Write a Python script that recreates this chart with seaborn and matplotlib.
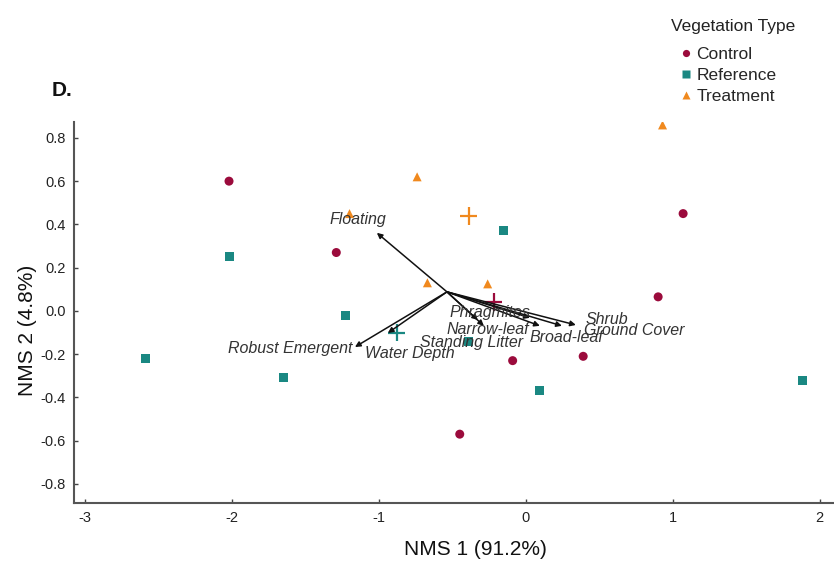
import matplotlib
matplotlib.use("Agg")
import matplotlib.pyplot as plt
import seaborn as sns
import pandas as pd

# Site scores on the two NMS axes
control_x = [-2.02, -1.29, 1.07, 0.90, 0.39, -0.09, -0.45]
control_y = [0.60, 0.27, 0.45, 0.065, -0.21, -0.23, -0.57]
reference_x = [-2.02, -1.23, -2.59, -1.65, -0.15, -0.39, 0.09, 1.88]
reference_y = [0.25, -0.02, -0.22, -0.31, 0.37, -0.14, -0.37, -0.32]
treatment_x = [-1.20, -0.74, -0.67, -0.26, 0.93]
treatment_y = [0.45, 0.62, 0.13, 0.125, 0.86]

# Group centroids
groups = ["Control", "Reference", "Treatment"]
centroid_x = [-0.22, -0.88, -0.39]
centroid_y = [0.04, -0.10, 0.44]

# Environmental vectors (joint plot)
vector_origin = (-0.537, 0.088)
vector_names = ["Floating", "Robust Emergent", "Water Depth", "Standing Litter",
                "Narrow-leaf", "Phragmites", "Broad-leaf", "Ground Cover", "Shrub"]
vector_x = [-1.014, -1.163, -0.939, -0.327, -0.286, 0.027, 0.095, 0.245, 0.340]
vector_y = [0.361, -0.167, -0.102, -0.042, -0.069, -0.032, -0.069, -0.069, -0.065]
label_x = [-1.143, -1.605, -0.789, -0.367, -0.259, -0.245, 0.279, 0.735, 0.551]
label_y = [0.421, -0.176, -0.199, -0.148, -0.088, -0.009, -0.125, -0.092, -0.042]

x_ticks = [-3, -2, -1, 0, 1, 2]
y_ticks = [0.8, 0.6, 0.4, 0.2, 0.0, -0.2, -0.4, -0.6, -0.8]

palette = {"Control": "#9b0b3c", "Reference": "#1a8882", "Treatment": "#f0891e"}
markers = {"Control": "o", "Reference": "s", "Treatment": "^"}

sites = pd.DataFrame({
    "NMS1": control_x + reference_x + treatment_x,
    "NMS2": control_y + reference_y + treatment_y,
    "Vegetation Type": (["Control"] * len(control_x) + ["Reference"] * len(reference_x)
                        + ["Treatment"] * len(treatment_x)),
})
centroids = pd.DataFrame({"NMS1": centroid_x, "NMS2": centroid_y, "Vegetation Type": groups})

sns.set_theme(style="white")
plt.rcParams["font.family"] = ["Liberation Sans", "DejaVu Sans"]

fig = plt.figure(figsize=(8.34, 5.67), dpi=100)
ax = fig.add_axes([0.0887, 0.113, 0.911, 0.672])

sns.scatterplot(data=sites, x="NMS1", y="NMS2", hue="Vegetation Type",
                style="Vegetation Type", palette=palette, markers=markers,
                hue_order=groups, style_order=groups,
                s=42, edgecolor="none", ax=ax, zorder=3)

sns.scatterplot(data=centroids, x="NMS1", y="NMS2", hue="Vegetation Type",
                palette=palette, marker="+", s=160, linewidth=1.6,
                legend=False, ax=ax, zorder=3)

ox, oy = vector_origin
for name, vx, vy, lx, ly in zip(vector_names, vector_x, vector_y, label_x, label_y):
    ax.annotate("", xy=(vx, vy), xytext=(ox, oy),
                arrowprops=dict(arrowstyle="-|>", color="#111111", lw=1.1,
                                mutation_scale=8, shrinkA=0, shrinkB=0),
                zorder=4)
    ax.text(lx, ly, name, ha="center", va="center", fontsize=11.5,
            style="italic", color="#333333", zorder=5)

ax.set_xlim(-3.075, 2.095)
ax.set_ylim(-0.888, 0.874)
ax.set_xticks(x_ticks)
ax.set_yticks(y_ticks)
ax.set_xticklabels([str(t) for t in x_ticks])
ax.set_yticklabels([f"{t:.1f}" for t in y_ticks])
ax.tick_params(axis="both", direction="in", length=3, width=1, color="#444444",
               labelsize=10.5, labelcolor="#222222", pad=6, left=True, bottom=True)

for side in ["top", "right"]:
    ax.spines[side].set_visible(False)
for side in ["left", "bottom"]:
    ax.spines[side].set_color("#555555")
    ax.spines[side].set_linewidth(1.5)

ax.set_xlabel("")
ax.set_ylabel("")
fig.text(0.5695, 0.030, "NMS 1 (91.2%)", fontsize=15, color="#111111",
         ha="center", va="center")
fig.text(0.033, 0.418, "NMS 2 (4.8%)", fontsize=15, color="#111111",
         ha="center", va="center", rotation=90)

fig.text(0.062, 0.841, "D.", fontsize=15, fontweight="bold", color="#111111",
         va="center")

# Legend: title drawn separately so it sits a little above the entries
sns.move_legend(ax, "upper left", bbox_to_anchor=(0.806, 0.929),
                bbox_transform=fig.transFigure, frameon=False, title=None,
                fontsize=12.5, handlelength=0.8, handletextpad=0.2,
                labelspacing=0.33, markerscale=0.8, borderaxespad=0.0)
fig.text(0.879, 0.953, "Vegetation Type", fontsize=12.5, color="#222222",
         ha="center", va="center")

fig.savefig("out.png", dpi=100)
